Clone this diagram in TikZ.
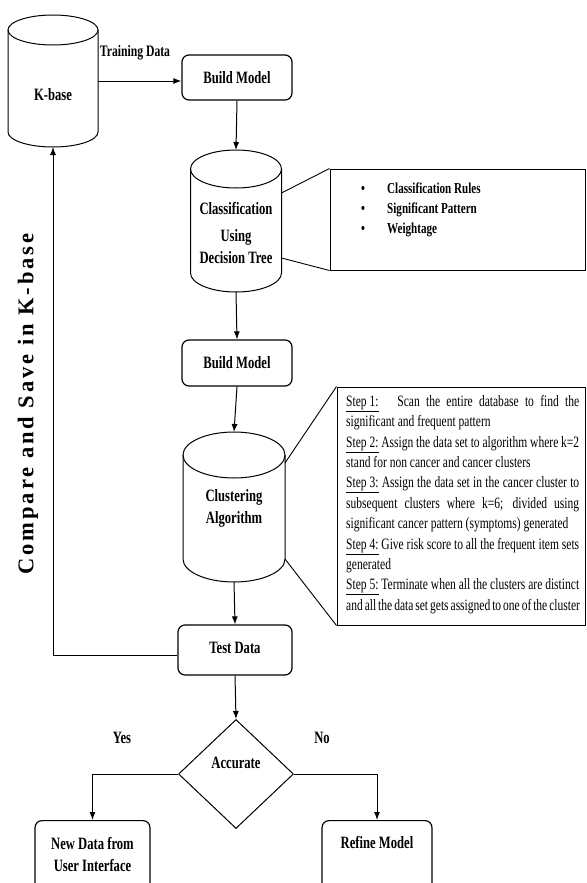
\documentclass[tikz,border=0pt]{standalone}
\usepackage{fontspec}
\setmainfont{Liberation Serif}[FakeStretch=0.73]
\newfontfamily\rotfont{Liberation Serif}[LetterSpace=13]
\usetikzlibrary{shapes.geometric,arrows.meta,calc}
\newcommand\lbl{\bfseries\fontsize{17.3}{22}\selectfont}
\newcommand\steptxt{\fontsize{15.8}{20.4}\selectfont}
\newcommand\jl[1]{\makebox[233pt][s]{#1}}
\tikzset{
  arr/.style={line width=1pt, -{Latex[length=8pt,width=6pt]}},
  conn/.style={line width=0.9pt},
  rbox/.style={draw, line width=1.2pt, rounded corners=7pt, inner sep=0pt, font=\lbl, align=center},
  cylph/.style={inner sep=0pt, outer sep=0pt},
  txt/.style={font=\lbl, align=center, inner sep=0pt},
  callout/.style={draw, line width=1pt, inner sep=0pt},
}
\newcommand\drawcyl[3]{%
  \draw[line width=1pt] ([yshift=-#3pt]#1.north west) -- ([yshift=#3pt]#1.south west)
     arc[start angle=180,end angle=360,x radius=#2pt,y radius=#3pt] -- ([yshift=-#3pt]#1.north east);
  \draw[line width=1pt] ([yshift=-#3pt]#1.north) ellipse[x radius=#2pt,y radius=#3pt];}
\begin{document}
\begin{tikzpicture}[x=1pt,y=-1pt]
\useasboundingbox (0,0) rectangle (586,883);
\clip (0,0) rectangle (586,883);

% cylinders (placeholders)
\node[cylph, minimum width=90pt, minimum height=132pt] (kb) at (53,81) {};
\drawcyl{kb}{45}{15}
\node[txt] (kbt) at (53,95) {K-base};

\node[cylph, minimum width=91pt, minimum height=142pt] (cls) at (236,221) {};
\drawcyl{cls}{45.5}{19}
\node[txt, font=\bfseries\fontsize{17.3}{22}\selectfont] (clst) at (236,233) {Classification\\[5pt]Using\\Decision Tree};

\node[cylph, minimum width=102pt, minimum height=150pt] (clu) at (234,507) {};
\drawcyl{clu}{51}{23}
\node[txt] (clut) at (234,508) {Clustering\\Algorithm};

% boxes
\node[rbox, minimum width=110pt, minimum height=45pt] (bm1) at (237,77.5) {Build Model};
\node[rbox, minimum width=110pt, minimum height=46pt] (bm2) at (237,363) {Build Model};
\node[rbox, minimum width=114pt, minimum height=50pt] (td) at (235,650) {\raisebox{4pt}{Test Data}};
\node[draw, diamond, line width=1pt, minimum width=115pt, minimum height=109pt, inner sep=0pt] (dia) at (236,774) {};
\node[txt] (acc) at (236,763) {Accurate};
\node[rbox, anchor=north, minimum width=115pt, minimum height=90pt] (nd) at (92.5,820) {};
\node[txt] (ndt) at (92.5,854) {New Data from\\User Interface};
\node[rbox, anchor=north, minimum width=110pt, minimum height=90pt] (rm) at (377,820) {};
\node[txt] (rmt) at (377,842) {Refine Model};

% callout boxes
\node[callout, minimum width=255pt, minimum height=101pt] (cb1) at (457.5,219.5) {};
\node[anchor=north west, inner sep=0pt, align=left, font=\bfseries\fontsize{15.2}{20}\selectfont] (bl) at (361,183)
  {\makebox[26pt][l]{\textbullet}Classification Rules\\
   \makebox[26pt][l]{\textbullet}Significant Pattern\\
   \makebox[26pt][l]{\textbullet}Weightage};
\node[callout, minimum width=248pt, minimum height=238pt] (cb2) at (461,506) {};
\node[anchor=north west, inner sep=0pt, text width=233pt, align=left, font=\steptxt] (steps) at (346,395) {%
\spaceskip=0pt\xspaceskip=0pt
\jl{\underline{Step 1:}\ \ \ Scan the entire database to find the}\\
significant and frequent pattern\\
\jl{\underline{Step 2:} Assign the data set to algorithm where k=2}\\
stand for non cancer and cancer clusters\\
\jl{\underline{Step 3:} Assign the data set in the cancer cluster to}\\
\jl{subsequent clusters where k=6; divided using}\\
significant cancer pattern (symptoms) generated\\
\jl{\underline{Step 4:} Give risk score to all the frequent item sets}\\
generated\\
\jl{\underline{Step 5:} Terminate when all the clusters are distinct}\\
\jl{and all the data set gets assigned to one of the cluster}};

% callout connectors
\draw[conn] ($(cls.north east)+(0,43)$) -- (cb1.north west);
\draw[conn] ($(cls.south east)+(0,-34)$) -- (cb1.south west);
\draw[conn] ($(clu.north east)+(0,31)$) -- (cb2.north west);
\draw[conn] ($(clu.south east)+(0,-23)$) -- (cb2.south west);

% labels
\node[txt, font=\bfseries\fontsize{16}{20}\selectfont] (trl) at (135,53) {Training Data};
\node[txt] (yes) at (122,738) {Yes};
\node[txt] (no) at (322,738) {No};
\node[rotate=90, inner sep=0pt, font=\rotfont\bfseries\fontsize{22.5}{22}\selectfont] (cs) at (28,404) {Compare and Save in K-base};

% connectors
\draw[arr] (kb.east) -- (kb.east -| bm1.west);
\draw[arr] (bm1.south) -- (cls.north);
\draw[arr] (cls.south) -- (bm2.north);
\draw[arr] (bm2.south) -- (clu.north);
\draw[arr] (clu.south) -- (td.north);
\draw[arr] ([yshift=-5pt]td.west) -| (kb.south);
\draw[arr] (td.south) -- (dia.north);
\draw[arr] (dia.west) -| (nd.north);
\draw[arr] (dia.east) -| (rm.north);
\end{tikzpicture}
\end{document}
